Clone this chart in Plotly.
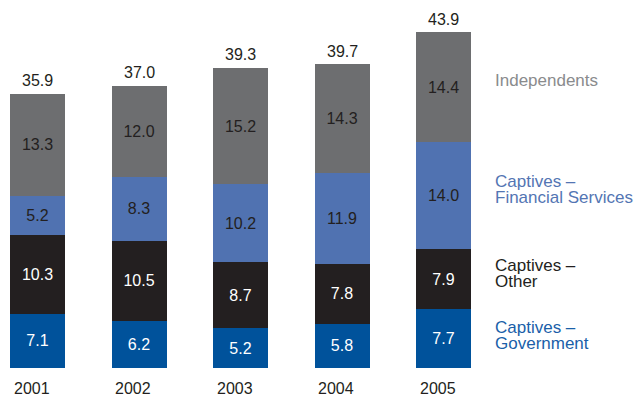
import plotly.graph_objects as go

# Stacked totals by year (billions)
years = ["2001", "2002", "2003", "2004", "2005"]
government = [7.1, 6.2, 5.2, 5.8, 7.7]
other = [10.3, 10.5, 8.7, 7.8, 7.9]
financial = [5.2, 8.3, 10.2, 11.9, 14.0]
independents = [13.3, 12.0, 15.2, 14.3, 14.4]
totals = [35.9, 37.0, 39.3, 39.7, 43.9]

series = [
    (["Captives –", "Government"], government, "#00529b", "#ffffff", "#1a5fa9"),
    (["Captives –", "Other"], other, "#231f20", "#ffffff", "#231f20"),
    (["Captives –", "Financial Services"], financial, "#5072b1", "#231f20", "#5375b3"),
    (["Independents"], independents, "#6d6e70", "#231f20", "#8a8b8d"),
]

FONT = "Liberation Sans, Arial, sans-serif"
fig = go.Figure()
xs = list(range(len(years)))

for name, vals, color, txtcol, _ in series:
    fig.add_trace(go.Bar(
        x=xs, y=vals, name=" ".join(name),
        marker=dict(color=color, line=dict(width=0)),
        text=[f"{v:.1f}" for v in vals],
        textposition="inside", insidetextanchor="middle", textangle=0,
        insidetextfont=dict(family=FONT, size=16, color=txtcol),
        hoverinfo="skip",
    ))

annotations = []
# totals above each bar
for i, t in enumerate(totals):
    annotations.append(dict(x=i, y=t, xref="x", yref="y", text=f"{t:.1f}",
                            showarrow=False, yanchor="bottom", yshift=3,
                            font=dict(family=FONT, size=16, color="#231f20")))
# year labels under bars
for i, yr in enumerate(years):
    annotations.append(dict(x=i, y=0, xref="x", yref="y", text=yr,
                            showarrow=False, yanchor="top", yshift=-10, xshift=-6,
                            font=dict(family=FONT, size=16, color="#231f20")))

# series labels at the right, one annotation per line for tight leading
label_lines_y = [[327, 343], [265, 281], [181, 197], [81]]
for (lines, vals, color, txtcol, lblcol), ys in zip(series, label_lines_y):
    for line, py in zip(lines, ys):
        annotations.append(dict(x=493 / 636, y=1 - py / 397, xref="paper", yref="paper",
                                text=line, showarrow=False, xanchor="left", yanchor="middle",
                                align="left",
                                font=dict(family=FONT, size=17, color=lblcol)))

px_per_cat = 101.5
x0 = -37.5 / px_per_cat
px_per_unit = 7.63
fig.update_layout(
    barmode="stack", bargap=1 - 55 / px_per_cat,
    width=636, height=397,
    margin=dict(l=0, r=0, t=0, b=0),
    paper_bgcolor="white", plot_bgcolor="white",
    showlegend=False,
    xaxis=dict(range=[x0, x0 + 636 / px_per_cat], visible=False, fixedrange=True),
    yaxis=dict(range=[-(397 - 368) / px_per_unit, 368 / px_per_unit], visible=False, fixedrange=True),
    annotations=annotations,
    uniformtext=dict(minsize=16, mode="show"),
)

fig.write_html("out.html", config={"displayModeBar": False})
